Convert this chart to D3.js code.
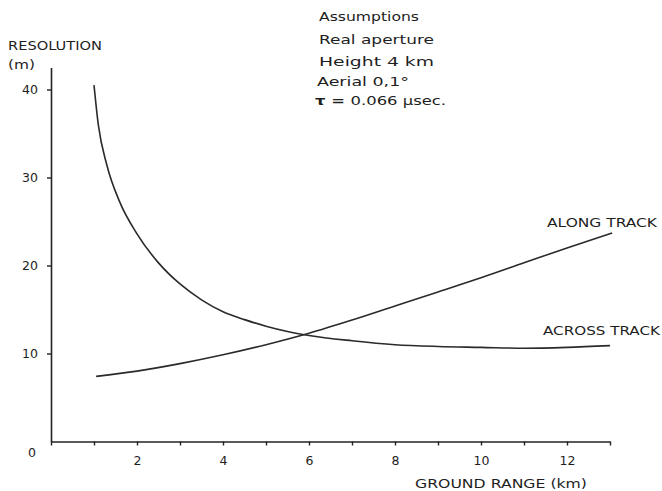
<!DOCTYPE html>
<html>
<head>
<meta charset="utf-8">
<script src="https://cdn.jsdelivr.net/npm/d3@7"></script>
<style>
  body { margin: 0; background: #fff; }
  text { font-family: "DejaVu Sans", sans-serif; fill: #1e1e1e; }
</style>
</head>
<body>
<div id="graph"></div>
<script>
// ground range (km) and resolution (m)
var acrossKm  = [1.0, 1.1, 1.3, 1.6, 2.0, 2.5, 3.0, 3.5, 4.0, 4.5, 5.0, 5.5, 6.0, 7.0, 8.0, 9.0, 10.0, 11.0, 12.0, 13.0];
var acrossRes = [40.5, 36.0, 31.4, 27.2, 23.6, 20.3, 17.9, 16.1, 14.75, 13.85, 13.1, 12.5, 12.05, 11.45, 11.0, 10.8, 10.7, 10.6, 10.7, 10.9];

var alongKm  = [1.05, 2, 3, 4, 5, 6, 7, 8, 9, 10, 11, 12, 13.05];
var alongRes = [7.4, 8.0, 8.85, 9.85, 11.0, 12.3, 13.8, 15.4, 17.0, 18.6, 20.3, 22.0, 23.7];

var xTicks = [0, 1, 2, 3, 4, 5, 6, 7, 8, 9, 10, 11, 12, 13];
var yTicks = [10, 20, 30, 40];

var assumptions = ["Assumptions", "Real aperture", "Height 4 km", "Aerial 0,1\u00b0"];

var width = 662, height = 491;

var svg = d3.select("#graph")
    .append("svg")
    .attr("width", width)
    .attr("height", height);

var x = d3.scaleLinear().domain([0, 13]).range([51, 610]);
var y = d3.scaleLinear().domain([0, 42.5]).range([441.5, 67.5]);

// axes
var xAxis = d3.axisBottom(x)
    .tickValues(xTicks)
    .tickSize(4)
    .tickSizeOuter(0)
    .tickPadding(11)
    .tickFormat(function(d) { return (d > 0 && d % 2 == 0) ? d : ""; });

var yAxis = d3.axisLeft(y)
    .tickValues(yTicks)
    .tickSize(4)
    .tickSizeOuter(0)
    .tickPadding(9);

var gx = svg.append("g")
    .attr("transform", "translate(0," + y(0) + ")")
    .call(xAxis);

var gy = svg.append("g")
    .attr("transform", "translate(" + x(0) + ",0)")
    .call(yAxis);

[gx, gy].forEach(function(g) {
    g.select(".domain").attr("stroke", "#222").attr("stroke-width", 1.6);
    g.selectAll(".tick line").attr("stroke", "#222").attr("stroke-width", 1.4);
    g.selectAll(".tick text")
     .style("font-family", "DejaVu Sans")
     .style("font-size", "12.5px")
     .attr("fill", "#1e1e1e");
});

svg.append("text")
    .attr("x", 28)
    .attr("y", 457)
    .style("font-size", "12.5px")
    .text("0");

// curves
var line = d3.line()
    .x(function(d) { return x(d[0]); })
    .y(function(d) { return y(d[1]); })
    .curve(d3.curveMonotoneX);

svg.append("path")
    .datum(d3.zip(acrossKm, acrossRes))
    .attr("d", line)
    .attr("fill", "none")
    .attr("stroke", "#2a2a2a")
    .attr("stroke-width", 1.6);

svg.append("path")
    .datum(d3.zip(alongKm, alongRes))
    .attr("d", line)
    .attr("fill", "none")
    .attr("stroke", "#2a2a2a")
    .attr("stroke-width", 1.6);

// labels
function label(str, lx, ly, len, size) {
    return svg.append("text")
        .attr("x", lx)
        .attr("y", ly)
        .attr("textLength", len)
        .attr("lengthAdjust", "spacingAndGlyphs")
        .style("font-size", size + "px")
        .text(str);
}

label("RESOLUTION", 8, 50, 94, 12.5);
label("(m)", 8, 69, 27, 12.5);
label("ALONG TRACK", 547, 227, 110, 12.5);
label("ACROSS TRACK", 543, 335, 117, 12.5);
label("GROUND RANGE (km)", 415, 488, 172, 12.5);

var assumX = [319, 319, 319, 317];
var assumY = [21, 44, 66, 86];
var assumLen = [100, 115, 115, 92];
assumptions.forEach(function(s, i) {
    label(s, assumX[i], assumY[i], assumLen[i], 13);
});

var tau = svg.append("text")
    .attr("x", 315)
    .attr("y", 105)
    .attr("textLength", 131)
    .attr("lengthAdjust", "spacingAndGlyphs")
    .style("font-size", "13px");
tau.append("tspan").style("font-weight", "bold").text("\u03c4 = ");
tau.append("tspan").text("0.066 \u03bcsec.");
</script>
</body>
</html>
